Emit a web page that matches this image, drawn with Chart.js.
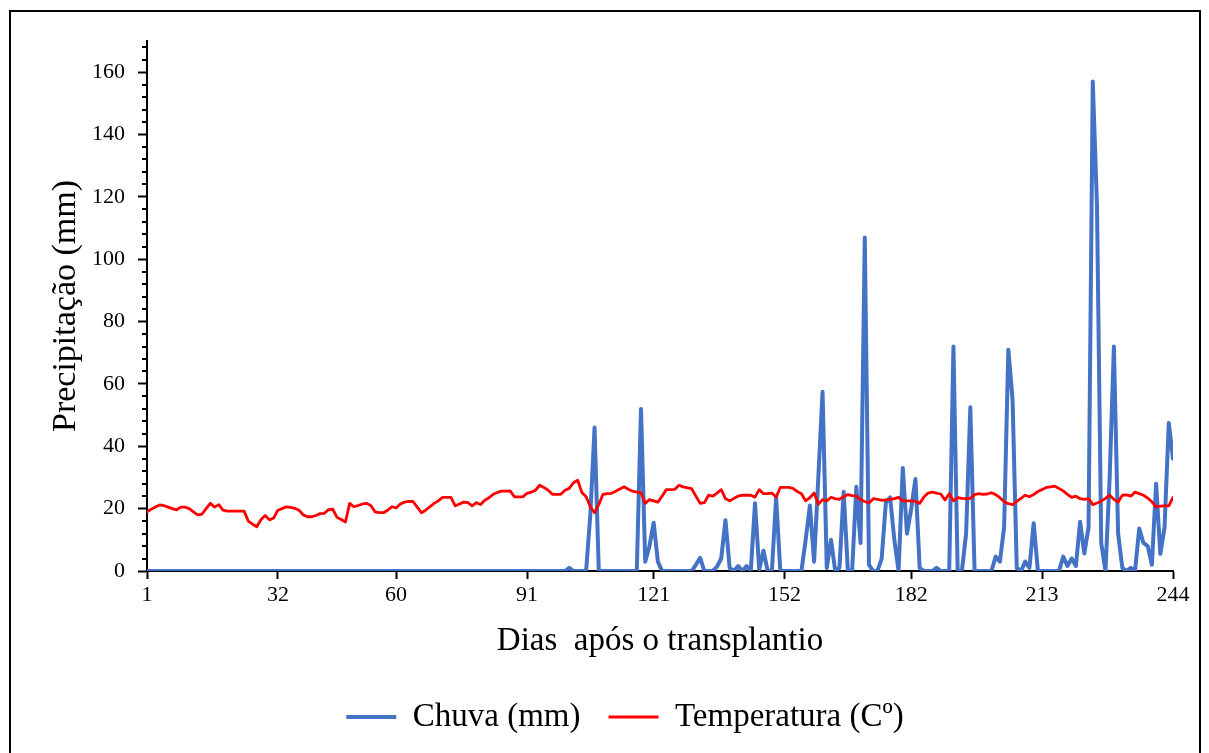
<!DOCTYPE html>
<html>
<head>
<meta charset="utf-8">
<script src="https://cdn.jsdelivr.net/npm/chart.js@4"></script>
<style>
  body { margin: 0; background: #fff; }
  #frame { position: absolute; left: 9px; top: 10px; width: 1192px; height: 800px; border: 2px solid #000; box-sizing: border-box; }
  #myChart { position: absolute; left: 0; top: 0; }
</style>
</head>
<body>
<div id="frame"></div>
<canvas id="myChart" width="1209" height="753"></canvas>
<script>
// tick labels
const xTicks = [1, 32, 60, 91, 121, 152, 182, 213, 244];
const yTicks = [0, 20, 40, 60, 80, 100, 120, 140, 160];

// chuva diaria (mm), dias 1..244
const chuva = [
  0, 0, 0, 0, 0, 0, 0, 0, 0, 0,
  0, 0, 0, 0, 0, 0, 0, 0, 0, 0,
  0, 0, 0, 0, 0, 0, 0, 0, 0, 0,
  0, 0, 0, 0, 0, 0, 0, 0, 0, 0,
  0, 0, 0, 0, 0, 0, 0, 0, 0, 0,
  0, 0, 0, 0, 0, 0, 0, 0, 0, 0,
  0, 0, 0, 0, 0, 0, 0, 0, 0, 0,
  0, 0, 0, 0, 0, 0, 0, 0, 0, 0,
  0, 0, 0, 0, 0, 0, 0, 0, 0, 0,
  0, 0, 0, 0, 0, 0, 0, 0, 0, 0,
  1, 0, 0, 0, 0, 18, 46, 0, 0, 0,
  0, 0, 0, 0, 0, 0, 0, 52, 3, 8,
  15.5, 3, 0, 0, 0, 0, 0, 0, 0, 0,
  2, 4.2, 0, 0, 0, 1.4, 4, 16.3, 1, 0,
  1.6, 0, 1.6, 0, 21.7, 0.5, 6.5, 0, 0, 23.6,
  0, 0, 0, 0, 0, 0, 10, 21, 3, 30,
  57.5, 1, 10, 0, 1, 25.4, 0, 0, 27, 9,
  107, 2, 0, 0, 4, 22, 23.6, 10, 0, 33,
  12, 20, 29.5, 1, 0, 0, 0, 1, 0, 0,
  0, 72, 0, 0, 12, 52.5, 0, 0, 0, 0,
  0, 4.6, 3, 14, 71, 55, 1, 0, 3, 1,
  15.3, 0, 0, 0, 0, 0, 0, 4.6, 1.6, 4,
  1.6, 15.8, 5.6, 14, 157, 117, 9, 0, 30, 72,
  12, 1, 0, 1, 0, 13.6, 9, 8, 2, 28,
  5.5, 14, 47.5, 36
];

// temperatura diaria (C), dias 1..244
const temperatura = [
  19, 19.8, 20.5, 21.2, 21, 20.5, 20, 19.6, 20.5, 20.5,
  20, 19, 18, 18.2, 20, 21.7, 20.5, 21.3, 19.5, 19.2,
  19.2, 19.2, 19.2, 19.2, 16, 15, 14.2, 16.5, 17.8, 16.4,
  17, 19.5, 20, 20.6, 20.4, 20.1, 19.5, 18, 17.4, 17.4,
  17.8, 18.4, 18.5, 19.7, 19.8, 17.2, 16.5, 15.7, 21.7, 20.6,
  21, 21.5, 21.7, 21, 19, 18.7, 18.7, 19.5, 20.6, 20.2,
  21.5, 22.1, 22.3, 22.3, 20.5, 18.7, 19.5, 20.6, 21.7, 22.5,
  23.6, 23.6, 23.6, 20.9, 21.5, 22.1, 21.9, 20.9, 21.9, 21.3,
  22.7, 23.5, 24.6, 25.2, 25.6, 25.6, 25.7, 23.8, 23.8, 23.8,
  24.9, 25.3, 25.9, 27.5, 26.8, 25.9, 24.6, 24.6, 24.6, 25.9,
  26.5, 28.3, 29.1, 25.2, 23.8, 20.6, 18.7, 21.3, 24.6, 24.8,
  24.9, 25.6, 26.3, 27, 26.2, 25.6, 25.3, 25.1, 21.7, 22.9,
  22.5, 22.1, 24, 26.1, 26.1, 26.2, 27.5, 27, 26.7, 26.4,
  24, 21.7, 21.9, 24.3, 24, 25, 26.1, 23.2, 22.5, 23.3,
  24, 24.3, 24.3, 24.3, 23.7, 26.1, 24.8, 24.8, 25, 23.7,
  26.8, 26.8, 26.8, 26.5, 25.5, 24.8, 22.5, 23.5, 25, 21.4,
  22.9, 22.5, 23.6, 23.2, 23, 23.8, 24.5, 24.2, 24, 22.9,
  22.3, 21.8, 23.2, 23, 22.7, 22.8, 23, 23.2, 23.6, 22.5,
  22.5, 22.5, 22.3, 21.7, 23.7, 25, 25.3, 25, 24.7, 22.8,
  24.8, 22.5, 23.5, 23.3, 23.2, 23.3, 24.5, 24.8, 24.6, 24.7,
  25.1, 24.5, 23.5, 22.2, 21.6, 21.3, 22.3, 23.3, 24.3, 23.8,
  24.5, 25.5, 26.1, 26.8, 27, 27.2, 26.5, 25.7, 24.6, 23.6,
  24, 23.2, 23, 23.2, 21.3, 21.8, 22.4, 23.3, 24.3, 23,
  22.1, 24.3, 24.4, 24, 25.3, 24.8, 24.3, 23.4, 22.2, 20.6,
  20.8, 20.9, 20.9, 23.6
];

const dias = temperatura.map((t, i) => i + 1);

Chart.defaults.font.family = '"Liberation Serif", "Times New Roman", serif';
Chart.defaults.color = '#000';

// small ticks between the labelled ones on the y axis
const minorTicks = {
  id: 'minorTicks',
  beforeDatasetsDraw(chart) {
    const y = chart.scales.y;
    const ctx = chart.ctx;
    ctx.save();
    ctx.strokeStyle = '#000';
    ctx.lineWidth = 2;
    for (let v = 4; v <= 168; v += 4) {
      if (v % 20 === 0) continue;
      const py = Math.round(y.getPixelForValue(v));
      ctx.beginPath();
      ctx.moveTo(y.right - 5, py);
      ctx.lineTo(y.right, py);
      ctx.stroke();
    }
    ctx.restore();
  }
};

const ctx = document.getElementById("myChart").getContext("2d");
new Chart(ctx, {
  type: "line",
  data: {
    datasets: [
      {
        label: "Chuva (mm)",
        data: chuva.map((v, i) => ({ x: dias[i], y: v })),
        borderColor: "#4472C4",
        backgroundColor: "#4472C4",
        borderWidth: 4,
        borderJoinStyle: "round",
        borderCapStyle: "round",
        pointRadius: 0,
        tension: 0,
        order: 2,
      },
      {
        label: "Temperatura (Cº)",
        data: temperatura.map((v, i) => ({ x: dias[i], y: v })),
        borderColor: "#FF0000",
        backgroundColor: "#FF0000",
        borderWidth: 2.8,
        borderJoinStyle: "round",
        borderCapStyle: "round",
        pointRadius: 0,
        tension: 0,
        order: 1,
      },
    ],
  },
  options: {
    responsive: false,
    animation: false,
    devicePixelRatio: 1,
    layout: { padding: { left: 77, right: 36, top: 41, bottom: 9.5 } },
    plugins: {
      tooltip: { enabled: false },
      legend: {
        position: "bottom",
        labels: {
          usePointStyle: true,
          pointStyle: "line",
          pointStyleWidth: 50,
          color: "#000",
          font: { size: 33 },
          padding: 28,
          sort: (a, b) => a.datasetIndex - b.datasetIndex,
        },
      },
    },
    scales: {
      x: {
        type: "linear",
        min: 1,
        max: 244,
        afterBuildTicks: (s) => { s.ticks = xTicks.map((v) => ({ value: v })); },
        afterFit: (s) => { s.height = 101.5; },
        border: { color: "#000", width: 2 },
        grid: { drawOnChartArea: false, tickLength: 8, tickColor: "#000", tickWidth: 2 },
        ticks: { color: "#000", font: { size: 22 }, padding: 3, maxRotation: 0, autoSkip: false },
        title: {
          display: true,
          text: "Dias  após o transplantio",
          color: "#000",
          font: { size: 33 },
          padding: { top: 0, bottom: 11.7 },
        },
      },
      y: {
        min: 0,
        max: 170,
        afterBuildTicks: (s) => { s.ticks = yTicks.map((v) => ({ value: v })); },
        afterFit: (s) => { s.width = 147 - 77; },
        border: { color: "#000", width: 2 },
        grid: { drawOnChartArea: false, tickLength: 9, tickColor: "#000", tickWidth: 2 },
        ticks: { color: "#000", font: { size: 22 }, padding: 13 },
        title: {
          display: true,
          text: "Precipitação (mm)",
          color: "#000",
          font: { size: 34 },
          padding: { top: -31, bottom: 0 },
        },
      },
    },
  },
  plugins: [minorTicks],
});
</script>
</body>
</html>
